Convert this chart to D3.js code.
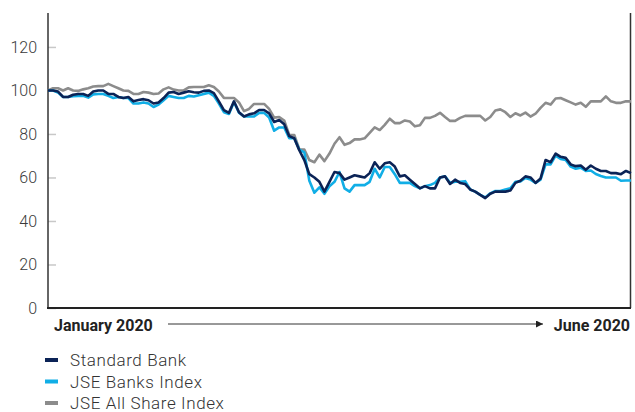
<!DOCTYPE html>
<html>
<head>
<meta charset="utf-8">
<script src="https://cdn.jsdelivr.net/npm/d3@7"></script>
<style>
	body { margin: 0; background: #fff; }
	svg { display: block; font-family: Roboto, "Liberation Sans", sans-serif; }
</style>
</head>
<body>
<div id="chart"></div>
<script>
// values rebased to 100, sampled from early January to end of June 2020
const standardBank = [
	100, 100, 99.5, 97, 97, 98, 98.4, 98.4, 97.5, 99.5,
	100, 100, 98.4, 98.4, 97, 96.5, 97, 95, 95.6, 96,
	95.5, 94, 94.5, 96.5, 99, 99.3, 98.4, 99, 99.6, 99.2,
	99, 99.8, 100, 98.8, 95, 91, 89.7, 95, 90, 88,
	89, 89.5, 91, 91, 89.5, 85.5, 86.4, 84.5, 79, 78,
	72.5, 68, 61.5, 60, 58, 53.5, 58, 62.5, 62, 59,
	60, 61, 60.5, 60, 62, 67, 64, 66.5, 67, 65,
	60.5, 61, 59, 57, 55, 56, 55, 55, 60, 60.5,
	57, 59, 57.5, 57, 54.5, 53.5, 52, 50.5, 52.5, 53.5,
	53.5, 53.5, 54, 57.5, 58.5, 60.5, 60, 57.5, 59.5, 68,
	67, 71, 69.5, 69, 66, 65.2, 65.5, 63.5, 65.5, 64,
	63, 63, 62, 62, 61.5, 63, 62,
];
const jseBanks = [
	100, 100, 99, 97, 97, 97.3, 97.5, 97.5, 96.7, 98.2,
	98.4, 98.4, 97.5, 96.5, 97, 96.5, 96.5, 94, 94, 94.5,
	94, 92.4, 93.5, 95.5, 97.5, 97, 96.5, 96.5, 97.5, 97.2,
	97.8, 98.4, 99, 97.5, 94, 90, 89.2, 94.7, 89.8, 88,
	88, 88, 89.7, 89.7, 87.6, 81.5, 83, 83, 78, 78,
	72.8, 71.5, 58.5, 53, 55.5, 52.5, 56, 58, 62.5, 55,
	53.5, 56.5, 56.5, 56.5, 58, 64, 60, 64.8, 64.8, 61.5,
	57.5, 57.5, 57.5, 56, 55, 56, 56.5, 57.5, 60, 60.5,
	57.5, 58, 58, 58.3, 54.5, 53.5, 52, 50.8, 52.7, 53.8,
	53.8, 54.5, 55, 58, 58.2, 59.8, 59, 57.5, 59, 66,
	66, 70, 68.5, 68, 65, 64, 64.5, 63, 63.2, 61.6,
	60.7, 60, 60, 60, 58.5, 58.6, 58.6,
];
const jseAllShare = [
	100, 101, 101, 100, 101, 100, 99.8, 100.5, 101, 101.8,
	102, 102, 103, 102, 101, 100, 99.8, 98.4, 98.4, 99.3,
	99, 98.4, 98.6, 100.5, 101.4, 100.4, 100, 100, 101.4, 101.6,
	101.6, 101.6, 102.4, 101.6, 99.5, 96.6, 96.5, 96.5, 94.5, 90.5,
	91.5, 93.8, 93.8, 93.8, 91.5, 87.5, 87.8, 86.2, 79.5, 79.5,
	73, 72.8, 68, 67, 70.5, 67.5, 71, 75.5, 78.5, 75,
	75.8, 77.5, 77.5, 78, 80.5, 83, 81.8, 84.2, 87, 85,
	85, 86.2, 85.7, 83.5, 84, 87.4, 87.4, 88.3, 89.7, 87.8,
	86, 86, 87.4, 88.3, 88.3, 88.3, 88.3, 86.2, 87.8, 90.8,
	91.3, 90, 87.8, 89.5, 88.5, 89.8, 88, 89.3, 92, 94.3,
	93.5, 96.3, 96.5, 95.5, 94.5, 93.5, 94.3, 92.5, 95, 95,
	95, 97.3, 95, 94.3, 94.3, 95, 95,
];

const seriesNames = ["Standard Bank", "JSE Banks Index", "JSE All Share Index"];
const seriesValues = [standardBank, jseBanks, jseAllShare];
const yTicks = [0, 20, 40, 60, 80, 100, 120];
const startLabel = "January 2020";
const endLabel = "June 2020";

const palette = ["#0b2356", "#11aee6", "#8c8c8c"];

const svgWidth = 635;
const svgHeight = 412;

const margin = {
	top: 13,
	right: 4,
	bottom: 104,
	left: 48,
};

const svg = d3
	.select("#chart")
	.append("svg")
	.attr("viewBox", `0 0 ${svgWidth} ${svgHeight}`)
	.attr("width", svgWidth)
	.attr("height", svgHeight);

const plotBottom = svgHeight - margin.bottom;
const plotRight = svgWidth - margin.right;

const xScale = d3
	.scaleLinear()
	.domain([0, standardBank.length - 1])
	.range([margin.left, plotRight]);

const yScale = d3
	.scaleLinear()
	.domain([0, 135.6])
	.range([plotBottom, margin.top]);

// y axis: ticks drawn inwards, light grey
const yAxis = svg
	.append("g")
	.attr("transform", `translate(${margin.left} 0)`)
	.call(
		d3.axisLeft(yScale).tickValues(yTicks).tickSizeInner(-8).tickSizeOuter(0).tickPadding(11)
	);

yAxis.select(".domain").remove();
yAxis.selectAll("line").attr("stroke", "#c8c8c8").attr("stroke-width", 1.5);
yAxis
	.selectAll("text")
	.attr("fill", "#3a3a3a")
	.style("font-size", "16px")
	.style("font-weight", 300)
	.style("font-family", "Roboto, sans-serif");

// frame: left, right and bottom
svg
	.append("line")
	.attr("x1", margin.left)
	.attr("x2", margin.left)
	.attr("y1", margin.top)
	.attr("y2", plotBottom)
	.attr("stroke", "#333")
	.attr("stroke-width", 1.5);

svg
	.append("line")
	.attr("x1", plotRight - 0.5)
	.attr("x2", plotRight - 0.5)
	.attr("y1", margin.top)
	.attr("y2", plotBottom)
	.attr("stroke", "#333")
	.attr("stroke-width", 1.5);

// lines, grey first so the bank lines sit on top
const line = d3
	.line()
	.x((d, i) => xScale(i))
	.y((d) => yScale(d));

[2, 1, 0].forEach((k) => {
	svg
		.append("path")
		.datum(seriesValues[k])
		.attr("fill", "none")
		.attr("stroke", palette[k])
		.attr("stroke-width", 2.6)
		.attr("stroke-linejoin", "round")
		.attr("d", line);
});

svg
	.append("line")
	.attr("x1", margin.left - 1)
	.attr("x2", plotRight)
	.attr("y1", plotBottom)
	.attr("y2", plotBottom)
	.attr("stroke", "#222")
	.attr("stroke-width", 2.2);

// time arrow under the axis
svg
	.append("defs")
	.append("marker")
	.attr("id", "arrow")
	.attr("viewBox", "0 0 10 10")
	.attr("refX", 10)
	.attr("refY", 5)
	.attr("markerWidth", 7)
	.attr("markerHeight", 7)
	.attr("markerUnits", "userSpaceOnUse")
	.attr("orient", "auto")
	.append("path")
	.attr("d", "M0,0 L10,5 L0,10 Z")
	.attr("fill", "#222");

svg
	.append("text")
	.attr("x", margin.left + 6)
	.attr("y", 331)
	.attr("fill", "#222")
	.style("font-size", "16px")
	.style("font-weight", 700)
	.text(startLabel);

svg
	.append("text")
	.attr("x", plotRight - 1)
	.attr("y", 331)
	.attr("text-anchor", "end")
	.attr("fill", "#222")
	.style("font-size", "16px")
	.style("font-weight", 700)
	.text(endLabel);

svg
	.append("line")
	.attr("x1", 168)
	.attr("x2", 543)
	.attr("y1", 324)
	.attr("y2", 324)
	.attr("stroke", "#333")
	.attr("stroke-width", 1)
	.attr("marker-end", "url(#arrow)");

// legend
const legend = svg.append("g").attr("transform", "translate(45, 360)");

seriesNames.forEach((name, i) => {
	const legendRow = legend.append("g").attr("transform", `translate(0, ${i * 21.5})`);

	legendRow
		.append("rect")
		.attr("y", -2)
		.attr("width", 13)
		.attr("height", 4)
		.attr("fill", palette[i]);

	legendRow
		.append("text")
		.attr("x", 25)
		.attr("y", 6)
		.attr("fill", "#333")
		.style("font-size", "17px")
		.style("font-weight", 300)
		.style("letter-spacing", "0.6px")
		.text(name);
});
</script>
</body>
</html>
